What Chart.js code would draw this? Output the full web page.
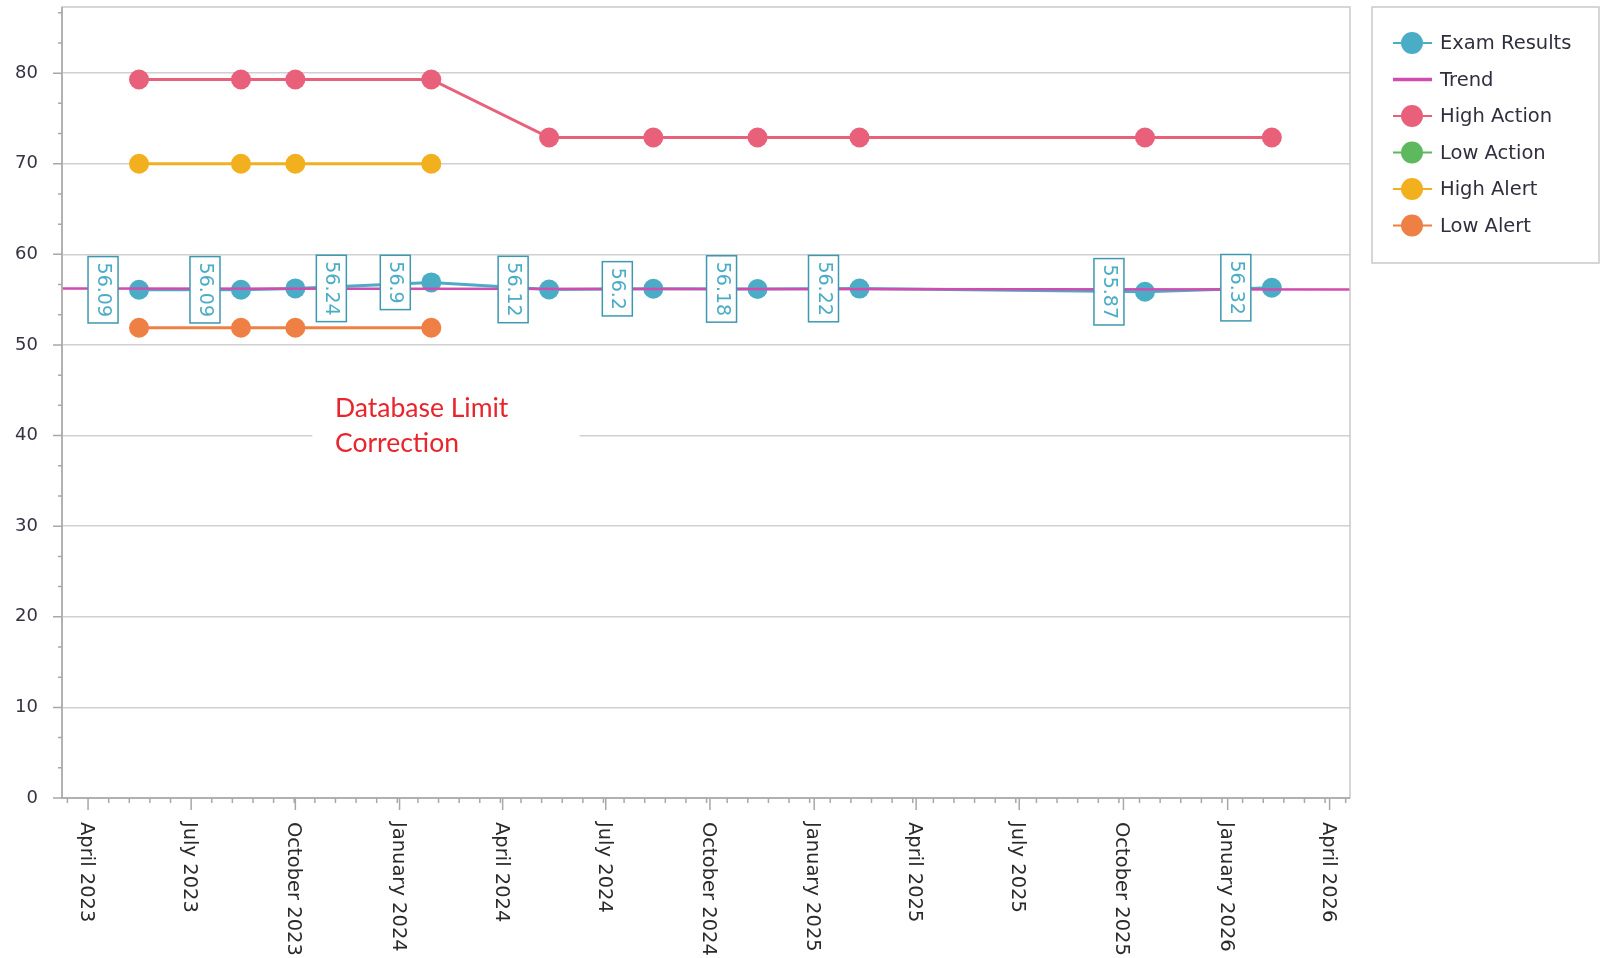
<!DOCTYPE html>
<html>
<head>
<meta charset="utf-8">
<script src="https://cdn.jsdelivr.net/npm/chart.js@4"></script>
<style>
  html, body { margin: 0; padding: 0; background: #fff; }
  #wrap { width: 1606px; height: 958px; position: relative; }
</style>
</head>
<body>
<div id="wrap"><canvas id="examChart"></canvas></div>
<script>
// Data
const examDates = ['2023-05-16', '2023-08-14', '2023-10-01', '2024-01-29', '2024-05-12',
                   '2024-08-12', '2024-11-12', '2025-02-10', '2025-10-20', '2026-02-09'];
const examValues = [56.09, 56.09, 56.24, 56.9, 56.12, 56.2, 56.18, 56.22, 55.87, 56.32];
const highActionValues = [79.3, 79.3, 79.3, 79.3, 72.9, 72.9, 72.9, 72.9, 72.9, 72.9];
const highAlertValues = [70, 70, 70, 70];
const lowAlertValues = [51.9, 51.9, 51.9, 51.9];
const lowActionValues = [];
const trendValues = [56.24, 56.12];

const axisStart = '2023-03-09';
const axisEnd = '2026-04-19';
const yMax = 87.3;

const tickDates = ['2023-04-01', '2023-07-01', '2023-10-01', '2024-01-01', '2024-04-01', '2024-07-01',
                   '2024-10-01', '2025-01-01', '2025-04-01', '2025-07-01', '2025-10-01', '2026-01-01', '2026-04-01'];
const tickLabels = ['April 2023', 'July 2023', 'October 2023', 'January 2024', 'April 2024', 'July 2024',
                    'October 2024', 'January 2025', 'April 2025', 'July 2025', 'October 2025', 'January 2026', 'April 2026'];

const noteLines = ['Database Limit', 'Correction'];
const noteAt = { x: '2023-11-05', y: 42 };
const noteBox = { x1: '2023-10-16', x2: '2024-06-08', y1: 48, y2: 36 };

const FONT = '"DejaVu Sans", sans-serif';

function toPoints(dates, values) {
    return values.map((v, i) => ({ x: Date.parse(dates[i]), y: v }));
}

// Lines, titles, ticks and legend drawn on the canvas
const decorations = {
    id: 'decorations',
    beforeDatasetsDraw(chart) {
        const ctx = chart.ctx;
        const xs = chart.scales.x, ys = chart.scales.y;
        // white box behind the note hides the gridline
        const bx1 = xs.getPixelForValue(Date.parse(noteBox.x1));
        const bx2 = xs.getPixelForValue(Date.parse(noteBox.x2));
        const by1 = ys.getPixelForValue(noteBox.y1);
        const by2 = ys.getPixelForValue(noteBox.y2);
        ctx.save();
        ctx.fillStyle = '#fff';
        ctx.fillRect(bx1, by1, bx2 - bx1, by2 - by1);
        ctx.fillStyle = '#E8242C';
        ctx.font = '26.5px Lato, sans-serif';
        ctx.textBaseline = 'alphabetic';
        ctx.textAlign = 'left';
        const tx = xs.getPixelForValue(Date.parse(noteAt.x));
        const ty = ys.getPixelForValue(noteAt.y);
        noteLines.forEach((line, i) => ctx.fillText(line, tx, ty + i * 35));
        ctx.restore();
    },
    afterDatasetsDraw(chart) {
        // value labels for the exam results
        const ctx = chart.ctx;
        const meta = chart.getDatasetMeta(0);
        const pts = meta.data;
        ctx.save();
        ctx.font = '19px ' + FONT;
        pts.forEach((p, i) => {
            const text = String(examValues[i]);
            const w = 30;
            const h = ctx.measureText(text).width + 12;
            let cx = p.x - 36;
            const clash = pts.some((q, j) => j !== i && Math.abs(q.x - cx) < w / 2 + 10);
            if (clash) cx = p.x + 36;
            ctx.fillStyle = '#fff';
            ctx.fillRect(cx - w / 2, p.y - h / 2, w, h);
            ctx.strokeStyle = '#3E98AF';
            ctx.lineWidth = 1.5;
            ctx.strokeRect(cx - w / 2, p.y - h / 2, w, h);
            ctx.translate(cx, p.y - h / 2 + 6);
            ctx.rotate(Math.PI / 2);
            ctx.fillStyle = '#4BACC6';
            ctx.textAlign = 'left';
            ctx.textBaseline = 'middle';
            ctx.fillText(text, 0, 0);
            ctx.setTransform(1, 0, 0, 1, 0, 0);
        });
        ctx.restore();
    },
    afterDraw(chart) {
        const ctx = chart.ctx;
        const a = chart.chartArea;
        const xs = chart.scales.x, ys = chart.scales.y;
        ctx.save();

        // plot frame
        ctx.lineWidth = 1.5;
        ctx.strokeStyle = '#C9C9C9';
        ctx.strokeRect(a.left, a.top, a.right - a.left, a.bottom - a.top);
        ctx.strokeStyle = '#A8A8A8';
        ctx.beginPath();
        ctx.moveTo(a.left, a.top);
        ctx.lineTo(a.left, a.bottom);
        ctx.lineTo(a.right, a.bottom);
        ctx.stroke();

        // y ticks and labels
        ctx.beginPath();
        for (let k = 0; k * 10 / 3 <= yMax; k++) {
            const y = ys.getPixelForValue(k * 10 / 3);
            const len = k % 3 === 0 ? 9 : 4;
            ctx.moveTo(a.left - len, y);
            ctx.lineTo(a.left, y);
        }
        ctx.stroke();
        ctx.fillStyle = '#333344';
        ctx.font = '18px ' + FONT;
        ctx.textAlign = 'right';
        ctx.textBaseline = 'middle';
        ys.ticks.forEach(t => {
            ctx.fillText(String(t.value), a.left - 24, ys.getPixelForValue(t.value));
        });

        // x ticks (5 steps per quarter) and rotated labels
        const majors = tickDates.map(d => xs.getPixelForValue(Date.parse(d)));
        const step = (majors[1] - majors[0]) / 5;
        ctx.beginPath();
        for (let px = majors[0] - step * 5; px <= a.right + 0.5; px += step) {
            if (px < a.left) continue;
            const isMajor = majors.some(m => Math.abs(m - px) < 1);
            ctx.moveTo(px, a.bottom);
            ctx.lineTo(px, a.bottom + (isMajor ? 12 : 5));
        }
        majors.forEach(m => { ctx.moveTo(m, a.bottom); ctx.lineTo(m, a.bottom + 12); });
        ctx.stroke();

        ctx.fillStyle = '#2A2A2A';
        ctx.font = '19.5px ' + FONT;
        ctx.textAlign = 'left';
        ctx.textBaseline = 'middle';
        majors.forEach((m, i) => {
            ctx.save();
            ctx.translate(m - 2, a.bottom + 24);
            ctx.rotate(Math.PI / 2);
            ctx.fillText(tickLabels[i], 0, 0);
            ctx.restore();
        });

        // legend
        const lx = 1372, ly = 7, lw = 227, lh = 256;
        ctx.strokeStyle = '#C9C9C9';
        ctx.lineWidth = 1.5;
        ctx.strokeRect(lx, ly, lw, lh);
        ctx.font = '19.5px ' + FONT;
        ctx.textAlign = 'left';
        ctx.textBaseline = 'middle';
        chart.data.datasets.forEach((ds, i) => {
            const y = 43 + i * 36.5;
            ctx.strokeStyle = ds.borderColor;
            ctx.lineWidth = ds.pointRadius ? 2 : 3.5;
            ctx.beginPath();
            ctx.moveTo(1393, y);
            ctx.lineTo(1432, y);
            ctx.stroke();
            if (ds.pointRadius) {
                ctx.fillStyle = ds.borderColor;
                ctx.beginPath();
                ctx.arc(1412, y, 11, 0, Math.PI * 2);
                ctx.fill();
            }
            ctx.fillStyle = '#2F2F3F';
            ctx.fillText(ds.label, 1440, y + 1);
        });

        ctx.restore();
    }
};

function series(label, color, data, order) {
    return {
        label: label,
        data: data,
        borderColor: color,
        backgroundColor: color,
        pointBackgroundColor: color,
        pointBorderWidth: 0,
        pointRadius: 10,
        pointHoverRadius: 10,
        borderWidth: 3,
        tension: 0,
        order: order
    };
}

const xMin = Date.parse(axisStart);
const xMax = Date.parse(axisEnd);

const trend = series('Trend', '#D04CAE', [{ x: xMin, y: trendValues[0] }, { x: xMax, y: trendValues[1] }], 0);
trend.pointRadius = 0;
trend.pointHoverRadius = 0;
trend.borderWidth = 2.5;

new Chart(document.getElementById('examChart'), {
    type: 'line',
    data: {
        datasets: [
            series('Exam Results', '#4BACC6', toPoints(examDates, examValues), 1),
            trend,
            series('High Action', '#E8607A', toPoints(examDates, highActionValues), 2),
            series('Low Action', '#5DB85E', toPoints(examDates, lowActionValues), 2),
            series('High Alert', '#F2B01E', toPoints(examDates, highAlertValues), 2),
            series('Low Alert', '#EE8046', toPoints(examDates, lowAlertValues), 2)
        ]
    },
    options: {
        responsive: true,
        maintainAspectRatio: false,
        devicePixelRatio: 1,
        animation: false,
        layout: { autoPadding: false, padding: { top: 7, right: 256, left: 0, bottom: 0 } },
        plugins: {
            legend: { display: false },
            tooltip: { enabled: false }
        },
        scales: {
            x: {
                type: 'linear',
                min: xMin,
                max: xMax,
                grid: { display: false },
                border: { display: false },
                ticks: { display: false },
                afterBuildTicks(scale) {
                    scale.ticks = tickDates.map(d => ({ value: Date.parse(d) }));
                },
                afterFit(scale) { scale.height = 160; }
            },
            y: {
                min: 0,
                max: yMax,
                ticks: { display: false, stepSize: 10, includeBounds: false },
                grid: { color: '#D0D0D0', lineWidth: 1.5, drawTicks: false },
                border: { display: false },
                afterFit(scale) { scale.width = 62; }
            }
        }
    },
    plugins: [decorations]
});
</script>
</body>
</html>
